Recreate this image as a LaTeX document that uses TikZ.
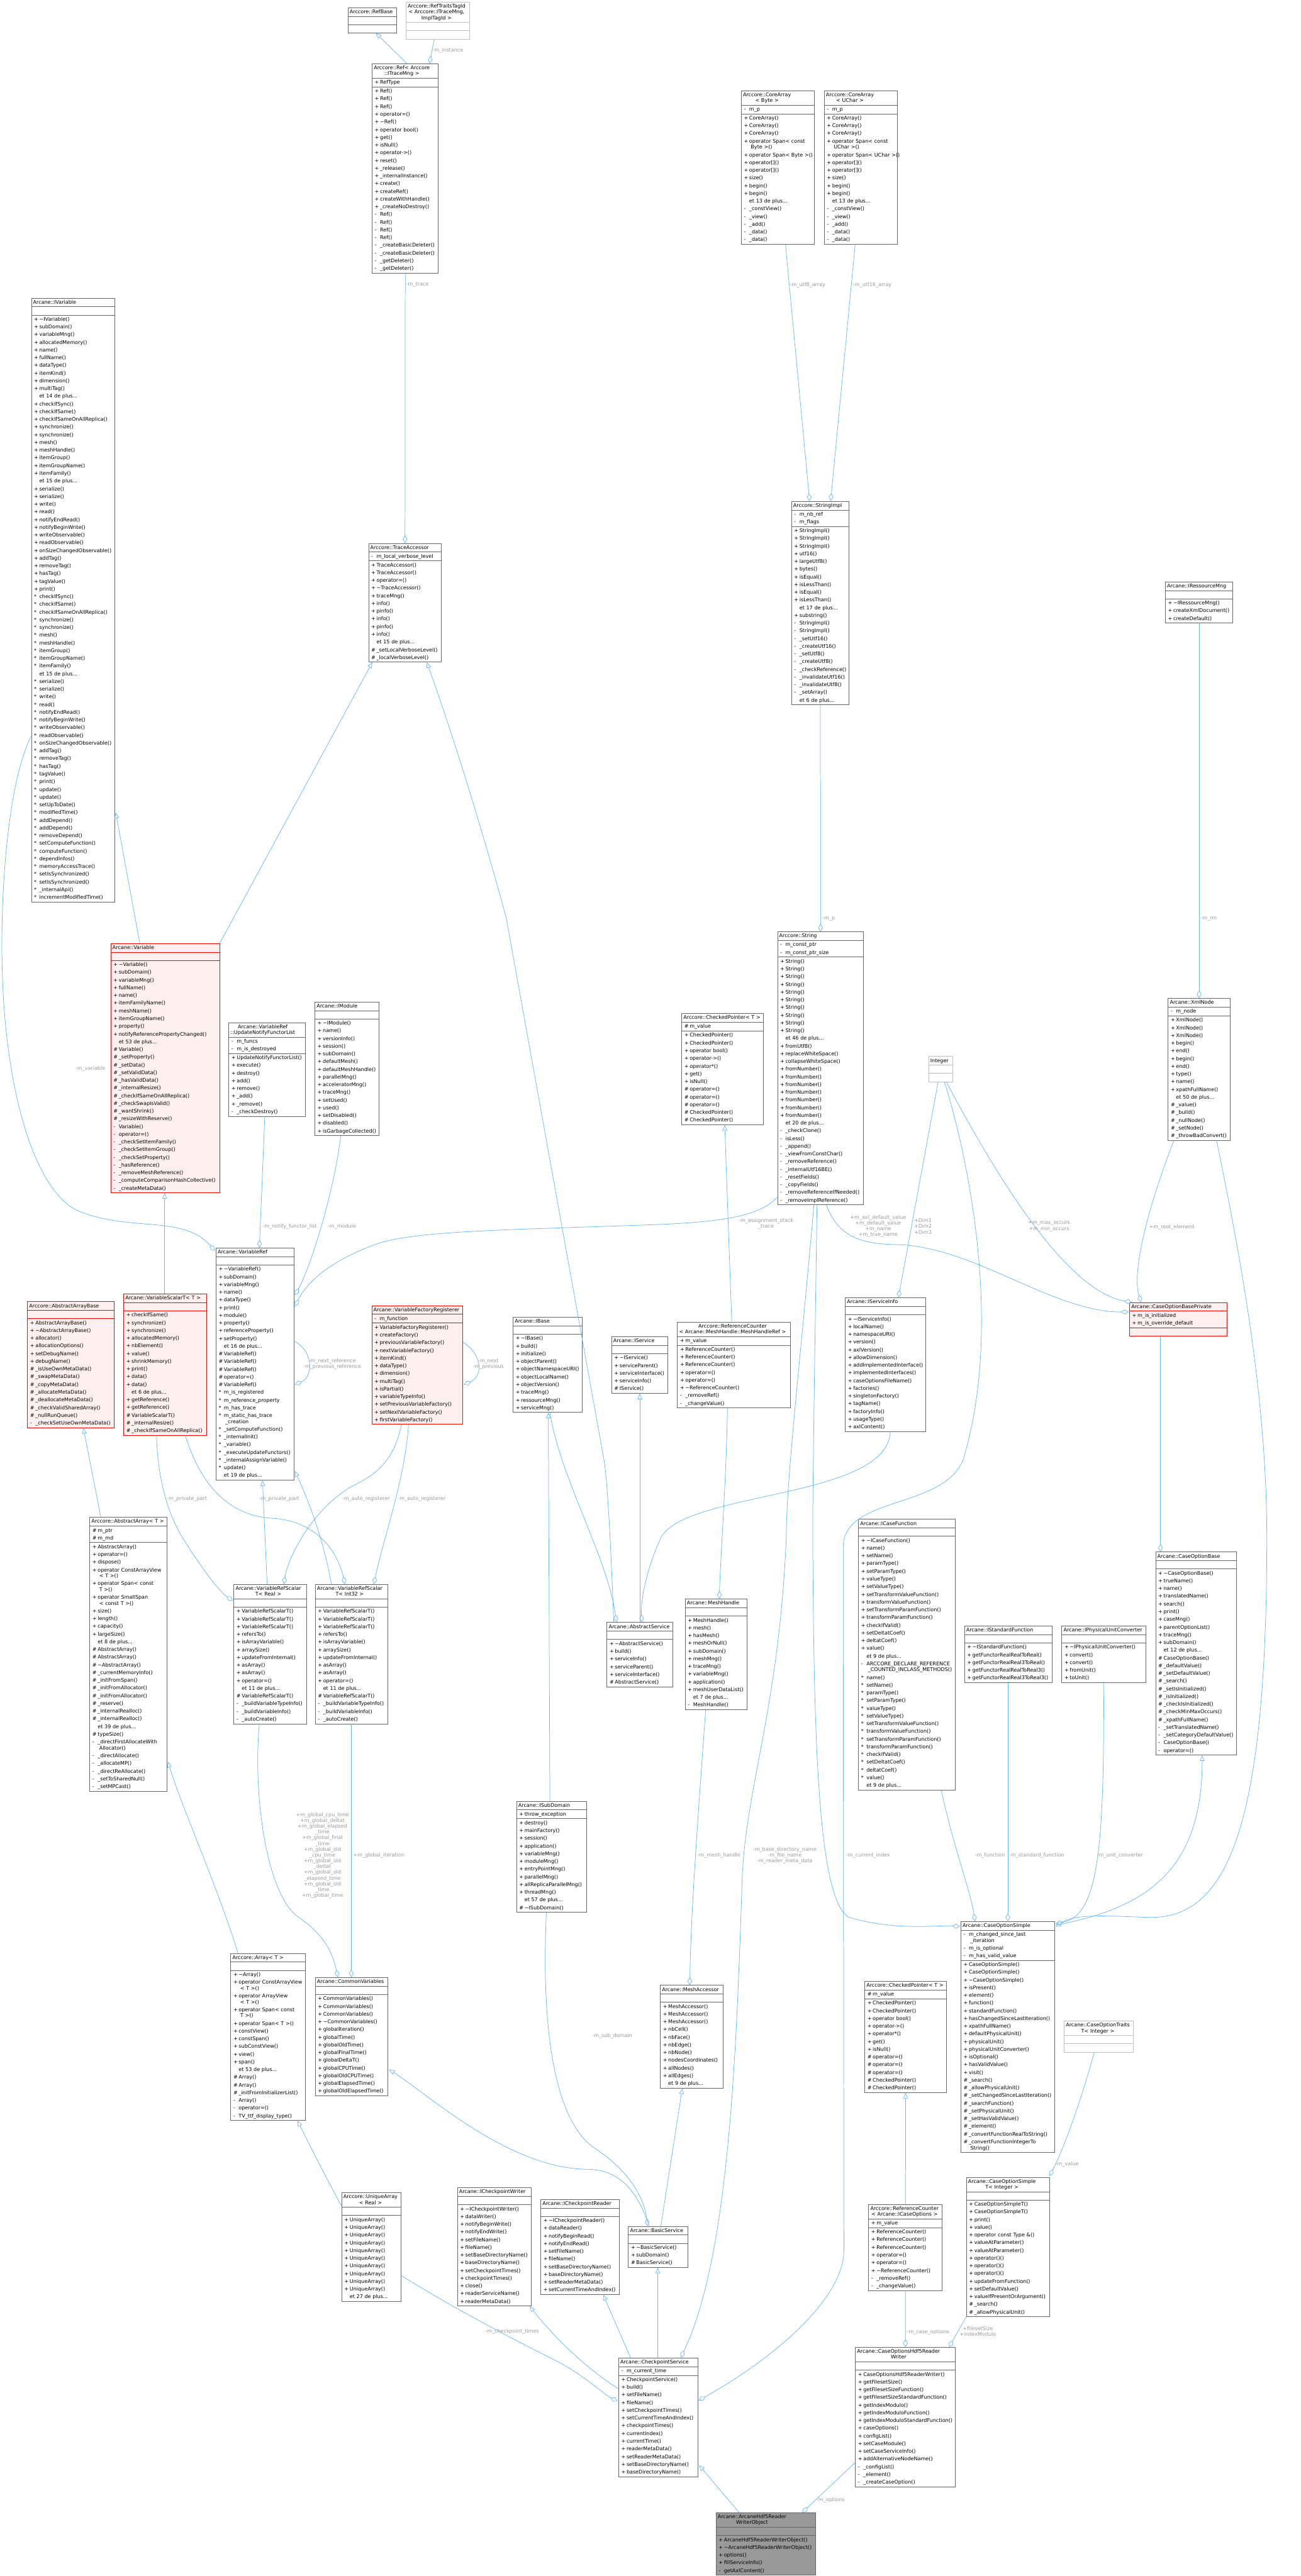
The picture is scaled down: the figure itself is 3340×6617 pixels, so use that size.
\documentclass[tikz,border=0pt]{standalone}
\usepackage{fontspec}
\setmainfont{DejaVu Sans}
\usetikzlibrary{shapes.multipart,arrows.meta,calc}
\definecolor{cEdge}{HTML}{63B8FF}
\definecolor{cBox}{HTML}{666666}
\definecolor{cLight}{HTML}{BFBFBF}
\definecolor{cRed}{HTML}{FF0000}
\definecolor{cRedFill}{HTML}{FFF0F0}
\definecolor{cDark}{HTML}{999999}
\definecolor{cLbl}{HTML}{9A9A9A}
\newcommand\xmfont{\fontsize{3.25pt}{4.95pt}\selectfont}
\newcommand\xlfont{\fontsize{3.25pt}{3.7pt}\selectfont}
\newcommand\xtld{\textasciitilde}
\newcommand\xrw[2]{\makebox[4pt][l]{\hspace{0.6pt}#1}#2\\}
\newcommand\xpu[1]{\xrw{+}{#1}}
\newcommand\xpr[1]{\xrw{-}{#1}}
\newcommand\xpo[1]{\xrw{\#}{#1}}
\newcommand\xst[1]{\xrw{*}{#1}}
\newcommand\xmo[1]{\xrw{}{et #1 de plus...}}
\newcommand\xtw[3]{\makebox[4pt][l]{\hspace{0.6pt}#1}#2\\[-1.1pt]\makebox[4pt][l]{}\hspace{1pt}#3\\}
\newcommand\xmbr[1]{\begin{tabular}{@{}l@{}}#1\end{tabular}}
\newcommand\xhdr[1]{{\xlfont\begin{tabular}{@{}c@{}}\rule{0pt}{3.4pt}#1\rule[-1.5pt]{0pt}{0pt}\end{tabular}}}
\newcommand\xemp{\rule{0pt}{3.5pt}\rule[-1.1pt]{0pt}{0pt}}
\newcommand\xcls[8]{\pgfmathsetmacro\xtwd{#4*0.25-2.2}\node[cls,#5,text width=\xtwd pt] (#1) at (#2,#3) {\centering\xhdr{#6}\nodepart{two}#7\nodepart{three}#8};}
\tikzset{
 cls/.style={rectangle split, rectangle split parts=3, draw=cBox, fill=white, line width=0.3pt, inner xsep=1.1pt, inner ysep=0.2pt, font=\xmfont, align=left, anchor=north west},
 redc/.style={draw=cRed, fill=cRedFill},
 lightc/.style={draw=cLight},
 darkc/.style={fill=cDark},
 inh/.style={draw=cEdge, line width=0.3pt, -{Triangle[open,length=3.6pt,width=3pt]}},
 agg/.style={draw=cEdge, line width=0.3pt, -{Diamond[open,length=5pt,width=3pt]}},
 lbl/.style={font=\xlfont, text=cLbl, align=center, inner sep=0pt},
}
\begin{document}
\begin{tikzpicture}[x=0.25pt,y=-0.25pt]
\fill[white] (0,0) rectangle (3340,6617);
\useasboundingbox (0,0) rectangle (3340,6617);

% ---------------- nodes ----------------
\xcls{RefBase}{893}{19}{125}{}{Arccore::RefBase}{\xemp}{\xemp}
\xcls{RefTr}{1042}{5}{163}{lightc}{Arccore::RefTraitsTagId\\< Arccore::ITraceMng,\\ ImplTagId >}{\xemp}{\xemp}
\xcls{Ref}{955}{163}{170}{}{Arccore::Ref< Arccore\\::ITraceMng >}{\xmbr{\xpu{RefType}}}{\xmbr{\xpu{Ref()}\xpu{Ref()}\xpu{Ref()}\xpu{operator=()}\xpu{\xtld Ref()}\xpu{operator bool()}\xpu{get()}\xpu{isNull()}\xpu{operator->()}\xpu{reset()}\xpu{\_release()}\xpu{\_internalInstance()}\xpu{create()}\xpu{createRef()}\xpu{createWithHandle()}\xpu{\_createNoDestroy()}\xpr{Ref()}\xpr{Ref()}\xpr{Ref()}\xpr{Ref()}\xpr{\_createBasicDeleter()}\xpr{\_createBasicDeleter()}\xpr{\_getDeleter()}\xpr{\_getDeleter()}}}

\xcls{CA8}{1903}{232}{188}{}{Arccore::CoreArray\\< Byte >}{\xmbr{\xpr{m\_p}}}{\xmbr{\xpu{CoreArray()}\xpu{CoreArray()}\xpu{CoreArray()}\xtw{+}{operator Span< const}{Byte >()}\xpu{operator Span< Byte >()}\xpu{operator[]()}\xpu{operator[]()}\xpu{size()}\xpu{begin()}\xpu{begin()}\xmo{13}\xpr{\_constView()}\xpr{\_view()}\xpr{\_add()}\xpr{\_data()}\xpr{\_data()}}}
\xcls{CA16}{2116}{232}{188}{}{Arccore::CoreArray\\< UChar >}{\xmbr{\xpr{m\_p}}}{\xmbr{\xpu{CoreArray()}\xpu{CoreArray()}\xpu{CoreArray()}\xtw{+}{operator Span< const}{UChar >()}\xpu{operator Span< UChar >()}\xpu{operator[]()}\xpu{operator[]()}\xpu{size()}\xpu{begin()}\xpu{begin()}\xmo{13}\xpr{\_constView()}\xpr{\_view()}\xpr{\_add()}\xpr{\_data()}\xpr{\_data()}}}

\xcls{IVar}{80}{765}{214}{}{Arcane::IVariable}{\xemp}{\xmbr{\xpu{\xtld IVariable()}\xpu{subDomain()}\xpu{variableMng()}\xpu{allocatedMemory()}\xpu{name()}\xpu{fullName()}\xpu{dataType()}\xpu{itemKind()}\xpu{dimension()}\xpu{multiTag()}\xmo{14}\xpu{checkIfSync()}\xpu{checkIfSame()}\xpu{checkIfSameOnAllReplica()}\xpu{synchronize()}\xpu{synchronize()}\xpu{mesh()}\xpu{meshHandle()}\xpu{itemGroup()}\xpu{itemGroupName()}\xpu{itemFamily()}\xmo{15}\xpu{serialize()}\xpu{serialize()}\xpu{write()}\xpu{read()}\xpu{notifyEndRead()}\xpu{notifyBeginWrite()}\xpu{writeObservable()}\xpu{readObservable()}\xpu{onSizeChangedObservable()}\xpu{addTag()}\xpu{removeTag()}\xpu{hasTag()}\xpu{tagValue()}\xpu{print()}\xst{checkIfSync()}\xst{checkIfSame()}\xst{checkIfSameOnAllReplica()}\xst{synchronize()}\xst{synchronize()}\xst{mesh()}\xst{meshHandle()}\xst{itemGroup()}\xst{itemGroupName()}\xst{itemFamily()}\xmo{15}\xst{serialize()}\xst{serialize()}\xst{write()}\xst{read()}\xst{notifyEndRead()}\xst{notifyBeginWrite()}\xst{writeObservable()}\xst{readObservable()}\xst{onSizeChangedObservable()}\xst{addTag()}\xst{removeTag()}\xst{hasTag()}\xst{tagValue()}\xst{print()}\xst{update()}\xst{update()}\xst{setUpToDate()}\xst{modifiedTime()}\xst{addDepend()}\xst{addDepend()}\xst{removeDepend()}\xst{setComputeFunction()}\xst{computeFunction()}\xst{dependInfos()}\xst{memoryAccessTrace()}\xst{setIsSynchronized()}\xst{setIsSynchronized()}\xst{\_internalApi()}\xst{incrementModifiedTime()}}}

\xcls{TA}{946}{1395}{187}{}{Arccore::TraceAccessor}{\xmbr{\xpr{m\_local\_verbose\_level}}}{\xmbr{\xpu{TraceAccessor()}\xpu{TraceAccessor()}\xpu{operator=()}\xpu{\xtld TraceAccessor()}\xpu{traceMng()}\xpu{info()}\xpu{pinfo()}\xpu{info()}\xpu{pinfo()}\xpu{info()}\xmo{15}\xpo{\_setLocalVerboseLevel()}\xpo{\_localVerboseLevel()}}}

\xcls{SImpl}{2032}{1287}{148}{}{Arccore::StringImpl}{\xmbr{\xpr{m\_nb\_ref}\xpr{m\_flags}}}{\xmbr{\xpu{StringImpl()}\xpu{StringImpl()}\xpu{StringImpl()}\xpu{utf16()}\xpu{largeUtf8()}\xpu{bytes()}\xpu{isEqual()}\xpu{isLessThan()}\xpu{isEqual()}\xpu{isLessThan()}\xmo{17}\xpu{substring()}\xpr{StringImpl()}\xpr{StringImpl()}\xpr{\_setUtf16()}\xpr{\_createUtf16()}\xpr{\_setUtf8()}\xpr{\_createUtf8()}\xpr{\_checkReference()}\xpr{\_invalidateUtf16()}\xpr{\_invalidateUtf8()}\xpr{\_setArray()}\xmo{6}}}

\xcls{IRes}{2992}{1494}{173}{}{Arcane::IRessourceMng}{\xemp}{\xmbr{\xpu{\xtld IRessourceMng()}\xpu{createXmlDocument()}\xpu{createDefault()}}}

\xcls{Var}{284}{2423}{279}{redc}{Arcane::Variable}{\xemp}{\xmbr{\xpu{\xtld Variable()}\xpu{subDomain()}\xpu{variableMng()}\xpu{fullName()}\xpu{name()}\xpu{itemFamilyName()}\xpu{meshName()}\xpu{itemGroupName()}\xpu{property()}\xpu{notifyReferencePropertyChanged()}\xmo{53}\xpo{Variable()}\xpo{\_setProperty()}\xpo{\_setData()}\xpo{\_setValidData()}\xpo{\_hasValidData()}\xpo{\_internalResize()}\xpo{\_checkIfSameOnAllReplica()}\xpo{\_checkSwapIsValid()}\xpo{\_wantShrink()}\xpo{\_resizeWithReserve()}\xpr{Variable()}\xpr{operator=()}\xpr{\_checkSetItemFamily()}\xpr{\_checkSetItemGroup()}\xpr{\_checkSetProperty()}\xpr{\_hasReference()}\xpr{\_removeMeshReference()}\xpr{\_computeComparisonHashCollective()}\xpr{\_createMetaData()}}}

\xcls{UNFL}{587}{2626}{196}{}{Arcane::VariableRef\\::UpdateNotifyFunctorList}{\xmbr{\xpr{m\_funcs}\xpr{m\_is\_destroyed}}}{\xmbr{\xpu{UpdateNotifyFunctorList()}\xpu{execute()}\xpu{destroy()}\xpu{add()}\xpu{remove()}\xpu{\_add()}\xpu{\_remove()}\xpr{\_checkDestroy()}}}

\xcls{IMod}{808}{2573}{165}{}{Arcane::IModule}{\xemp}{\xmbr{\xpu{\xtld IModule()}\xpu{name()}\xpu{versionInfo()}\xpu{session()}\xpu{subDomain()}\xpu{defaultMesh()}\xpu{defaultMeshHandle()}\xpu{parallelMng()}\xpu{acceleratorMng()}\xpu{traceMng()}\xpu{setUsed()}\xpu{used()}\xpu{setDisabled()}\xpu{disabled()}\xpu{isGarbageCollected()}}}

\xcls{Str}{1996}{2393}{221}{}{Arccore::String}{\xmbr{\xpr{m\_const\_ptr}\xpr{m\_const\_ptr\_size}}}{\xmbr{\xpu{String()}\xpu{String()}\xpu{String()}\xpu{String()}\xpu{String()}\xpu{String()}\xpu{String()}\xpu{String()}\xpu{String()}\xpu{String()}\xmo{46}\xpu{fromUtf8()}\xpu{replaceWhiteSpace()}\xpu{collapseWhiteSpace()}\xpu{fromNumber()}\xpu{fromNumber()}\xpu{fromNumber()}\xpu{fromNumber()}\xpu{fromNumber()}\xpu{fromNumber()}\xpu{fromNumber()}\xmo{20}\xpr{\_checkClone()}\xpr{isLess()}\xpr{\_append()}\xpr{\_viewFromConstChar()}\xpr{\_removeReference()}\xpr{\_internalUtf16BE()}\xpr{\_resetFields()}\xpr{\_copyFields()}\xpr{\_removeReferenceIfNeeded()}\xpr{\_removeImplReference()}}}

\xcls{CP1}{1750}{2603}{210}{}{Arccore::CheckedPointer< T >}{\xmbr{\xpo{m\_value}}}{\xmbr{\xpu{CheckedPointer()}\xpu{CheckedPointer()}\xpu{operator bool()}\xpu{operator->()}\xpu{operator*()}\xpu{get()}\xpu{isNull()}\xpo{operator=()}\xpo{operator=()}\xpo{operator=()}\xpo{CheckedPointer()}\xpo{CheckedPointer()}}}

\xcls{Int}{2384}{2713}{61}{lightc}{Integer}{\xemp}{\xemp}

\xcls{Xml}{2999}{2564}{159}{}{Arcane::XmlNode}{\xmbr{\xpr{m\_node}}}{\xmbr{\xpu{XmlNode()}\xpu{XmlNode()}\xpu{XmlNode()}\xpu{begin()}\xpu{end()}\xpu{begin()}\xpu{end()}\xpu{type()}\xpu{name()}\xpu{xpathFullName()}\xmo{50}\xpo{\_value()}\xpo{\_build()}\xpo{\_nullNode()}\xpo{\_setNode()}\xpo{\_throwBadConvert()}}}

\xcls{VRef}{554}{3205}{200}{}{Arcane::VariableRef}{\xemp}{\xmbr{\xpu{\xtld VariableRef()}\xpu{subDomain()}\xpu{variableMng()}\xpu{name()}\xpu{dataType()}\xpu{print()}\xpu{module()}\xpu{property()}\xpu{referenceProperty()}\xpu{setProperty()}\xmo{16}\xpo{VariableRef()}\xpo{VariableRef()}\xpo{VariableRef()}\xpo{operator=()}\xpo{VariableRef()}\xst{m\_is\_registered}\xst{m\_reference\_property}\xst{m\_has\_trace}\xtw{*}{m\_static\_has\_trace}{\_creation}\xst{\_setComputeFunction()}\xst{\_internalInit()}\xst{\_variable()}\xst{\_executeUpdateFunctors()}\xst{\_internalAssignVariable()}\xst{update()}\xmo{19}}}

\xcls{VST}{317}{3323}{213}{redc}{Arcane::VariableScalarT< T >}{\xemp}{\xmbr{\xpu{checkIfSame()}\xpu{synchronize()}\xpu{synchronize()}\xpu{allocatedMemory()}\xpu{nbElement()}\xpu{value()}\xpu{shrinkMemory()}\xpu{print()}\xpu{data()}\xpu{data()}\xmo{6}\xpu{getReference()}\xpu{getReference()}\xpo{VariableScalarT()}\xpo{\_internalResize()}\xpo{\_checkIfSameOnAllReplica()}}}

\xcls{AAB}{70}{3343}{222}{redc}{Arccore::AbstractArrayBase}{\xemp}{\xmbr{\xpu{AbstractArrayBase()}\xpu{\xtld AbstractArrayBase()}\xpu{allocator()}\xpu{allocationOptions()}\xpu{setDebugName()}\xpu{debugName()}\xpo{\_isUseOwnMetaData()}\xpo{\_swapMetaData()}\xpo{\_copyMetaData()}\xpo{\_allocateMetaData()}\xpo{\_deallocateMetaData()}\xpo{\_checkValidSharedArray()}\xpo{\_nullRunQueue()}\xpr{\_checkSetUseOwnMetaData()}}}

\xcls{VFR}{954}{3353}{234}{redc}{Arcane::VariableFactoryRegisterer}{\xmbr{\xpr{m\_function}}}{\xmbr{\xpu{VariableFactoryRegisterer()}\xpu{createFactory()}\xpu{previousVariableFactory()}\xpu{nextVariableFactory()}\xpu{itemKind()}\xpu{dataType()}\xpu{dimension()}\xpu{multiTag()}\xpu{isPartial()}\xpu{variableTypeInfo()}\xpu{setPreviousVariableFactory()}\xpu{setNextVariableFactory()}\xpu{firstVariableFactory()}}}

\xcls{IBase}{1317}{3383}{178}{}{Arcane::IBase}{\xemp}{\xmbr{\xpu{\xtld IBase()}\xpu{build()}\xpu{initialize()}\xpu{objectParent()}\xpu{objectNamespaceURI()}\xpu{objectLocalName()}\xpu{objectVersion()}\xpu{traceMng()}\xpu{ressourceMng()}\xpu{serviceMng()}}}

\xcls{ISrv}{1570}{3433}{144}{}{Arcane::IService}{\xemp}{\xmbr{\xpu{\xtld IService()}\xpu{serviceParent()}\xpu{serviceInterface()}\xpu{serviceInfo()}\xpo{IService()}}}

\xcls{RCM}{1739}{3395}{290}{}{Arccore::ReferenceCounter\\< Arcane::MeshHandle::MeshHandleRef >}{\xmbr{\xpu{m\_value}}}{\xmbr{\xpu{ReferenceCounter()}\xpu{ReferenceCounter()}\xpu{ReferenceCounter()}\xpu{operator=()}\xpu{operator=()}\xpu{\xtld ReferenceCounter()}\xpr{\_removeRef()}\xpr{\_changeValue()}}}

\xcls{ISI}{2170}{3333}{207}{}{Arcane::IServiceInfo}{\xemp}{\xmbr{\xpu{\xtld IServiceInfo()}\xpu{localName()}\xpu{namespaceURI()}\xpu{version()}\xpu{axlVersion()}\xpu{allowDimension()}\xpu{addImplementedInterface()}\xpu{implementedInterfaces()}\xpu{caseOptionsFileName()}\xpu{factories()}\xpu{singletonFactory()}\xpu{tagName()}\xpu{factoryInfo()}\xpu{usageType()}\xpu{axlContent()}}}

\xcls{COBP}{2900}{3345}{250}{redc}{Arcane::CaseOptionBasePrivate}{\xmbr{\xpu{m\_is\_initialized}\xpu{m\_is\_override\_default}}}{\xemp}

\xcls{AA}{230}{3897}{198}{}{Arccore::AbstractArray< T >}{\xmbr{\xpo{m\_ptr}\xpo{m\_md}}}{\xmbr{\xpu{AbstractArray()}\xpu{operator=()}\xpu{dispose()}\xtw{+}{operator ConstArrayView}{< T >()}\xtw{+}{operator Span< const}{T >()}\xtw{+}{operator SmallSpan}{< const T >()}\xpu{size()}\xpu{length()}\xpu{capacity()}\xpu{largeSize()}\xmo{8}\xpo{AbstractArray()}\xpo{AbstractArray()}\xpo{\xtld AbstractArray()}\xpo{\_currentMemoryInfo()}\xpo{\_initFromSpan()}\xpo{\_initFromAllocator()}\xpo{\_initFromAllocator()}\xpo{\_reserve()}\xpo{\_internalRealloc()}\xpo{\_internalRealloc()}\xmo{39}\xpo{typeSize()}\xtw{-}{\_directFirstAllocateWith}{Allocator()}\xpr{\_directAllocate()}\xpr{\_allocateMP()}\xpr{\_directReAllocate()}\xpr{\_setToSharedNull()}\xpr{\_setMPCast()}}}

\xcls{VRSR}{600}{4069}{186}{}{Arcane::VariableRefScalar\\T< Real >}{\xemp}{\xmbr{\xpu{VariableRefScalarT()}\xpu{VariableRefScalarT()}\xpu{VariableRefScalarT()}\xpu{refersTo()}\xpu{isArrayVariable()}\xpu{arraySize()}\xpu{updateFromInternal()}\xpu{asArray()}\xpu{asArray()}\xpu{operator=()}\xmo{11}\xpo{VariableRefScalarT()}\xpr{\_buildVariableTypeInfo()}\xpr{\_buildVariableInfo()}\xpr{\_autoCreate()}}}
\xcls{VRSI}{809}{4069}{186}{}{Arcane::VariableRefScalar\\T< Int32 >}{\xemp}{\xmbr{\xpu{VariableRefScalarT()}\xpu{VariableRefScalarT()}\xpu{VariableRefScalarT()}\xpu{refersTo()}\xpu{isArrayVariable()}\xpu{arraySize()}\xpu{updateFromInternal()}\xpu{asArray()}\xpu{asArray()}\xpu{operator=()}\xmo{11}\xpo{VariableRefScalarT()}\xpr{\_buildVariableTypeInfo()}\xpr{\_buildVariableInfo()}\xpr{\_autoCreate()}}}

\xcls{ASrv}{1558}{4167}{169}{}{Arcane::AbstractService}{\xemp}{\xmbr{\xpu{\xtld AbstractService()}\xpu{build()}\xpu{serviceInfo()}\xpu{serviceParent()}\xpu{serviceInterface()}\xpo{AbstractService()}}}

\xcls{MH}{1759}{4107}{158}{}{Arcane::MeshHandle}{\xemp}{\xmbr{\xpu{MeshHandle()}\xpu{mesh()}\xpu{hasMesh()}\xpu{meshOrNull()}\xpu{subDomain()}\xpu{meshMng()}\xpu{traceMng()}\xpu{variableMng()}\xpu{application()}\xpu{meshUserDataList()}\xmo{7}\xpr{MeshHandle()}}}

\xcls{ICF}{2204}{3902}{248}{}{Arcane::ICaseFunction}{\xemp}{\xmbr{\xpu{\xtld ICaseFunction()}\xpu{name()}\xpu{setName()}\xpu{paramType()}\xpu{setParamType()}\xpu{valueType()}\xpu{setValueType()}\xpu{setTransformValueFunction()}\xpu{transformValueFunction()}\xpu{setTransformParamFunction()}\xpu{transformParamFunction()}\xpu{checkIfValid()}\xpu{setDeltatCoef()}\xpu{deltatCoef()}\xpu{value()}\xmo{9}\xtw{-}{ARCCORE\_DECLARE\_REFERENCE}{\_COUNTED\_INCLASS\_METHODS()}\xst{name()}\xst{setName()}\xst{paramType()}\xst{setParamType()}\xst{valueType()}\xst{setValueType()}\xst{setTransformValueFunction()}\xst{transformValueFunction()}\xst{setTransformParamFunction()}\xst{transformParamFunction()}\xst{checkIfValid()}\xst{setDeltatCoef()}\xst{deltatCoef()}\xst{value()}\xmo{9}}}

\xcls{ISF}{2476}{4176}{225}{}{Arcane::IStandardFunction}{\xemp}{\xmbr{\xpu{\xtld IStandardFunction()}\xpu{getFunctorRealRealToReal()}\xpu{getFunctorRealReal3ToReal()}\xpu{getFunctorRealRealToReal3()}\xpu{getFunctorRealReal3ToReal3()}}}
\xcls{IPUC}{2726}{4176}{215}{}{Arcane::IPhysicalUnitConverter}{\xemp}{\xmbr{\xpu{\xtld IPhysicalUnitConverter()}\xpu{convert()}\xpu{convert()}\xpu{fromUnit()}\xpu{toUnit()}}}

\xcls{COB}{2967}{3986}{208}{}{Arcane::CaseOptionBase}{\xemp}{\xmbr{\xpu{\xtld CaseOptionBase()}\xpu{trueName()}\xpu{name()}\xpu{translatedName()}\xpu{search()}\xpu{print()}\xpu{caseMng()}\xpu{parentOptionList()}\xpu{traceMng()}\xpu{subDomain()}\xmo{12}\xpo{CaseOptionBase()}\xpo{\_defaultValue()}\xpo{\_setDefaultValue()}\xpo{\_search()}\xpo{\_setIsInitialized()}\xpo{\_isInitialized()}\xpo{\_checkIsInitialized()}\xpo{\_checkMinMaxOccurs()}\xpo{\_xpathFullName()}\xpr{\_setTranslatedName()}\xpr{\_setCategoryDefaultValue()}\xpr{CaseOptionBase()}\xpr{operator=()}}}

\xcls{ISD}{1326}{4626}{180}{}{Arcane::ISubDomain}{\xmbr{\xpu{throw\_exception}}}{\xmbr{\xpu{destroy()}\xpu{mainFactory()}\xpu{session()}\xpu{application()}\xpu{variableMng()}\xpu{moduleMng()}\xpu{entryPointMng()}\xpu{parallelMng()}\xpu{allReplicaParallelMng()}\xpu{threadMng()}\xmo{57}\xpo{\xtld ISubDomain()}}}

\xcls{Arr}{592}{5017}{192}{}{Arccore::Array< T >}{\xemp}{\xmbr{\xpu{\xtld Array()}\xtw{+}{operator ConstArrayView}{< T >()}\xtw{+}{operator ArrayView}{< T >()}\xtw{+}{operator Span< const}{T >()}\xpu{operator Span< T >()}\xpu{constView()}\xpu{constSpan()}\xpu{subConstView()}\xpu{view()}\xpu{span()}\xmo{53}\xpo{Array()}\xpo{Array()}\xpo{\_initFromInitializerList()}\xpr{Array()}\xpr{operator=()}\xpr{TV\_ttf\_display\_type()}}}

\xcls{CV}{809}{5079}{186}{}{Arcane::CommonVariables}{\xemp}{\xmbr{\xpu{CommonVariables()}\xpu{CommonVariables()}\xpu{CommonVariables()}\xpu{\xtld CommonVariables()}\xpu{globalIteration()}\xpu{globalTime()}\xpu{globalOldTime()}\xpu{globalFinalTime()}\xpu{globalDeltaT()}\xpu{globalCPUTime()}\xpu{globalOldCPUTime()}\xpu{globalElapsedTime()}\xpu{globalOldElapsedTime()}}}

\xcls{MA}{1695}{5099}{161}{}{Arcane::MeshAccessor}{\xemp}{\xmbr{\xpu{MeshAccessor()}\xpu{MeshAccessor()}\xpu{MeshAccessor()}\xpu{nbCell()}\xpu{nbFace()}\xpu{nbEdge()}\xpu{nbNode()}\xpu{nodesCoordinates()}\xpu{allNodes()}\xpu{allEdges()}\xmo{9}}}

\xcls{COS}{2467}{4935}{241}{}{Arcane::CaseOptionSimple}{\xmbr{\xtw{-}{m\_changed\_since\_last}{\_iteration}\xpr{m\_is\_optional}\xpr{m\_has\_valid\_value}}}{\xmbr{\xpu{CaseOptionSimple()}\xpu{CaseOptionSimple()}\xpu{\xtld CaseOptionSimple()}\xpu{isPresent()}\xpu{element()}\xpu{function()}\xpu{standardFunction()}\xpu{hasChangedSinceLastIteration()}\xpu{xpathFullName()}\xpu{defaultPhysicalUnit()}\xpu{physicalUnit()}\xpu{physicalUnitConverter()}\xpu{isOptional()}\xpu{hasValidValue()}\xpu{visit()}\xpo{\_search()}\xpo{\_allowPhysicalUnit()}\xpo{\_setChangedSinceLastIteration()}\xpo{\_searchFunction()}\xpo{\_setPhysicalUnit()}\xpo{\_setHasValidValue()}\xpo{\_element()}\xpo{\_convertFunctionRealToString()}\xtw{\#}{\_convertFunctionIntegerTo}{String()}}}

\xcls{CP2}{2220}{5089}{210}{}{Arccore::CheckedPointer< T >}{\xmbr{\xpo{m\_value}}}{\xmbr{\xpu{CheckedPointer()}\xpu{CheckedPointer()}\xpu{operator bool()}\xpu{operator->()}\xpu{operator*()}\xpu{get()}\xpu{isNull()}\xpo{operator=()}\xpo{operator=()}\xpo{operator=()}\xpo{CheckedPointer()}\xpo{CheckedPointer()}}}

\xcls{COTT}{2732}{5191}{177}{lightc}{Arcane::CaseOptionTraits\\T< Integer >}{\xemp}{\xemp}

\xcls{UA}{877}{5632}{152}{}{Arccore::UniqueArray\\< Real >}{\xemp}{\xmbr{\xpu{UniqueArray()}\xpu{UniqueArray()}\xpu{UniqueArray()}\xpu{UniqueArray()}\xpu{UniqueArray()}\xpu{UniqueArray()}\xpu{UniqueArray()}\xpu{UniqueArray()}\xpu{UniqueArray()}\xpu{UniqueArray()}\xmo{27}}}

\xcls{ICW}{1174}{5619}{189}{}{Arcane::ICheckpointWriter}{\xemp}{\xmbr{\xpu{\xtld ICheckpointWriter()}\xpu{dataWriter()}\xpu{notifyBeginWrite()}\xpu{notifyEndWrite()}\xpu{setFileName()}\xpu{fileName()}\xpu{setBaseDirectoryName()}\xpu{baseDirectoryName()}\xpu{setCheckpointTimes()}\xpu{checkpointTimes()}\xpu{close()}\xpu{readerServiceName()}\xpu{readerMetaData()}}}

\xcls{ICR}{1388}{5649}{202}{}{Arcane::ICheckpointReader}{\xemp}{\xmbr{\xpu{\xtld ICheckpointReader()}\xpu{dataReader()}\xpu{notifyBeginRead()}\xpu{notifyEndRead()}\xpu{setFileName()}\xpu{fileName()}\xpu{setBaseDirectoryName()}\xpu{baseDirectoryName()}\xpu{setReaderMetaData()}\xpu{setCurrentTimeAndIndex()}}}

\xcls{BS}{1613}{5718}{152}{}{Arcane::BasicService}{\xemp}{\xmbr{\xpu{\xtld BasicService()}\xpu{subDomain()}\xpo{BasicService()}}}

\xcls{RCC}{2230}{5662}{189}{}{Arccore::ReferenceCounter\\< Arcane::ICaseOptions >}{\xmbr{\xpu{m\_value}}}{\xmbr{\xpu{ReferenceCounter()}\xpu{ReferenceCounter()}\xpu{ReferenceCounter()}\xpu{operator=()}\xpu{operator=()}\xpu{\xtld ReferenceCounter()}\xpr{\_removeRef()}\xpr{\_changeValue()}}}

\xcls{COST}{2481}{5592}{213}{}{Arcane::CaseOptionSimple\\T< Integer >}{\xemp}{\xmbr{\xpu{CaseOptionSimpleT()}\xpu{CaseOptionSimpleT()}\xpu{print()}\xpu{value()}\xpu{operator const Type \&()}\xpu{valueAtParameter()}\xpu{valueAtParameter()}\xpu{operator()()}\xpu{operator()()}\xpu{operator()()}\xpu{updateFromFunction()}\xpu{setDefaultValue()}\xpu{valueIfPresentOrArgument()}\xpo{\_search()}\xpo{\_allowPhysicalUnit()}}}

\xcls{CS}{1588}{6056}{203}{}{Arcane::CheckpointService}{\xmbr{\xpr{m\_current\_time}}}{\xmbr{\xpu{CheckpointService()}\xpu{build()}\xpu{setFileName()}\xpu{fileName()}\xpu{setCheckpointTimes()}\xpu{setCurrentTimeAndIndex()}\xpu{checkpointTimes()}\xpu{currentIndex()}\xpu{currentTime()}\xpu{readerMetaData()}\xpu{setReaderMetaData()}\xpu{setBaseDirectoryName()}\xpu{baseDirectoryName()}}}

\xcls{COH}{2196}{6029}{257}{}{Arcane::CaseOptionsHdf5Reader\\Writer}{\xemp}{\xmbr{\xpu{CaseOptionsHdf5ReaderWriter()}\xpu{getFilesetSize()}\xpu{getFilesetSizeFunction()}\xpu{getFilesetSizeStandardFunction()}\xpu{getIndexModulo()}\xpu{getIndexModuloFunction()}\xpu{getIndexModuloStandardFunction()}\xpu{caseOptions()}\xpu{configList()}\xpu{setCaseModule()}\xpu{setCaseServiceInfo()}\xpu{addAlternativeNodeName()}\xpr{\_configList()}\xpr{\_element()}\xpr{\_createCaseOption()}}}

\xcls{AHO}{1838}{6454}{255}{darkc}{Arcane::ArcaneHdf5Reader\\WriterObject}{\xemp}{\xmbr{\xpu{ArcaneHdf5ReaderWriterObject()}\xpu{\xtld ArcaneHdf5ReaderWriterObject()}\xpu{options()}\xpu{fillServiceInfo()}\xpr{getAxlContent()}}}

% ---------------- edges ----------------
\draw[inh] ($(Ref.north west)+(90,0)$) -- ($(RefBase.south west)+(72,0)$);
\draw[agg] ($(RefTr.south west)+(73,0)$) -- ($(Ref.north west)+(148,0)$);
\draw[agg] (Ref.south) -- (TA.north);
\draw[agg] ($(CA8.south west)+(114,0)$) -- ($(SImpl.north west)+(47,0)$);
\draw[agg] ($(CA16.south west)+(80,0)$) -- ($(SImpl.north west)+(101,0)$);
\draw[agg] (SImpl.south) -- (Str.north);
\draw[agg] (IRes.south) -- (Xml.north);
\draw[inh] ($(Var.north west)+(75,0)$) -- ($(IVar.south east)+(2,-230)$);
\draw[inh] (Var.north east) -- ($(TA.south west)+(10,0)$);
\draw[agg] ($(IVar.north west)+(0,1126)$) .. controls (25,2000) and (3,2250) .. (5,2450) .. controls (8,2800) and (90,3060) .. (200,3110) .. controls (330,3165) and (470,3120) .. ($(VRef.north west)+(-2,8)$);
\draw[agg] ($(IMod.south west)+(67,0)$) .. controls (860,3050) and (800,3250) .. ($(VRef.north east)+(2,122)$);
\draw[agg] ($(UNFL.south west)+(93,0)$) -- ($(VRef.north west)+(112,0)$);
\draw[agg] ($(VRef.north east)+(0,240)$) .. controls (805,3470) and (805,3535) .. ($(VRef.north east)+(2,352)$);
\draw[agg] ($(VFR.north east)+(0,95)$) .. controls (1240,3480) and (1240,3535) .. ($(VFR.north east)+(2,204)$);
\draw[agg] ($(Str.south west)+(0,-20)$) .. controls (1950,3125) and (1850,3138) .. (1700,3145) .. controls (1300,3160) and (1050,3160) .. (955,3200) .. controls (850,3240) and (790,3290) .. ($(VRef.north east)+(2,151)$);
\draw[inh] ($(VST.north west)+(106,0)$) -- ($(Var.south west)+(139,0)$);
\draw[inh] ($(AA.north west)+(29,0)$) -- ($(AAB.south west)+(144,0)$);
\draw[agg] ($(VST.south west)+(85,0)$) .. controls (405,3800) and (430,3890) .. (475,3960) .. controls (520,4030) and (560,4085) .. ($(VRSR.north west)+(-2,43)$);
\draw[agg] ($(VST.south west)+(159,0)$) .. controls (520,3830) and (600,3895) .. (700,3900) .. controls (790,3905) and (860,3960) .. ($(VRSI.north west)+(77,0)$);
\draw[inh] ($(VRSR.north west)+(86,0)$) -- ($(VRef.south west)+(120,0)$);
\draw[inh] ($(VRSI.north west)+(42,0)$) .. controls (830,3950) and (790,3850) .. ($(VRef.south east)+(2,-24)$);
\draw[agg] ($(VFR.south west)+(77,0)$) .. controls (1010,3760) and (960,3790) .. (900,3820) .. controls (800,3880) and (740,4000) .. ($(VRSR.north west)+(129,0)$);
\draw[agg] ($(VFR.south west)+(95,0)$) .. controls (1040,3800) and (985,3950) .. ($(VRSI.north west)+(151,0)$);
\draw[agg] ($(VRSR.south west)+(66,0)$) .. controls (650,4600) and (680,4850) .. (760,4920) .. controls (820,4960) and (850,5000) .. ($(CV.north west)+(59,0)$);
\draw[agg] ($(VRSI.south west)+(93,0)$) -- ($(CV.north west)+(93,0)$);
\draw[inh] ($(Arr.north west)+(19,0)$) .. controls (560,4850) and (470,4650) .. ($(AA.south east)+(2,-76)$);
\draw[inh] ($(UA.north west)+(0,34)$) .. controls (840,5600) and (790,5500) .. ($(Arr.south west)+(172,0)$);
\draw[inh] ($(ISD.north west)+(86,0)$) -- ($(IBase.south west)+(91,0)$);
\draw[agg] ($(IBase.south west)+(95,0)$) .. controls (1440,3800) and (1560,4000) .. ($(ASrv.north west)+(25,0)$);
\draw[inh] ($(ASrv.north west)+(85,0)$) -- ($(ISrv.south west)+(73,0)$);
\draw[inh] ($(ASrv.north west)+(18,0)$) .. controls (1570,4000) and (1560,3800) .. (1551,3750) -- (1300,2358) .. controls (1230,2100) and (1150,1850) .. ($(TA.south west)+(150,0)$);
\draw[agg] ($(ISI.south west)+(116,0)$) .. controls (2280,3850) and (1760,3830) .. (1697,3950) .. controls (1665,4020) and (1645,4100) .. ($(ASrv.north west)+(90,0)$);
\draw[agg] ($(RCM.south west)+(129,0)$) .. controls (1865,3800) and (1850,4000) .. ($(MH.north west)+(88,0)$);
\draw[agg] ($(MH.south west)+(53,0)$) .. controls (1790,4700) and (1775,4900) .. ($(MA.north west)+(76,0)$);
\draw[agg] ($(ICF.south west)+(213,0)$) .. controls (2450,4750) and (2490,4850) .. ($(COS.north west)+(37,0)$);
\draw[agg] ($(ISF.south west)+(112,0)$) -- ($(COS.north west)+(121,0)$);
\draw[agg] ($(IPUC.south west)+(108,0)$) .. controls (2836,4750) and (2820,4920) .. ($(COS.north east)+(2,6)$);
\draw[inh] ($(COS.north east)+(2,10)$) .. controls (2950,4900) and (3087,4800) .. ($(COB.south west)+(120,0)$);
\draw[agg] ($(Xml.south west)+(125,0)$) .. controls (3190,3250) and (3253,3600) .. (3253,3950) .. controls (3253,4700) and (3150,4930) .. (2950,4925) .. controls (2850,4922) and (2760,4915) .. ($(COS.north east)+(2,14)$);
\draw[agg] ($(Str.south west)+(102,0)$) .. controls (2092,3500) and (2087,3800) .. (2087,3950) .. controls (2090,4400) and (2095,4880) .. (2180,4925) .. controls (2300,4960) and (2400,4945) .. ($(COS.north west)+(-2,13)$);
\draw[agg] ($(Str.south west)+(94,0)$) .. controls (2055,3500) and (2019,3800) .. (2019,3950) .. controls (2000,4400) and (1910,4600) .. (1905,4850) .. controls (1890,5300) and (1870,5800) .. ($(CS.north east)+(-44,0)$);
\draw[agg] ($(Int.south west)+(41,0)$) .. controls (2480,2950) and (2580,3400) .. (2473,3750) .. controls (2420,3880) and (2160,3840) .. (2165,3980) -- (2167,5780) .. controls (2167,5900) and (2000,6050) .. ($(CS.north east)+(2,110)$);
\draw[agg] ($(Int.south west)+(25,0)$) -- ($(ISI.north west)+(137,0)$);
\draw[agg] ($(Int.south west)+(46,0)$) .. controls (2600,3100) and (2760,3320) .. ($(COBP.north west)+(6,0)$);
\draw[agg] ($(Str.south west)+(126,0)$) .. controls (2150,3170) and (2200,3195) .. (2300,3197) .. controls (2500,3200) and (2700,3370) .. ($(COBP.north west)+(-2,25)$);
\draw[agg] ($(Xml.south west)+(15,0)$) .. controls (2930,3150) and (2910,3280) .. ($(COBP.north west)+(30,0)$);
\draw[agg] ($(COBP.south west)+(80,0)$) -- ($(COB.north west)+(13,0)$);
\draw[inh] ($(RCM.north west)+(140,0)$) -- ($(CP1.south west)+(111,0)$);
\draw[inh] (RCC.north) -- (CP2.south);
\draw[agg] (RCC.south) -- ($(COH.north west)+(129,0)$);
\draw[agg] (COST.south west) -- ($(COH.north west)+(241,0)$);
\draw[agg] ($(COTT.south west)+(78,0)$) .. controls (2780,5380) and (2740,5500) .. ($(COST.north east)+(0,-2)$);
\draw[agg] ($(COH.south west)+(0,-63)$) -- ($(AHO.north west)+(222,0)$);
\draw[inh] ($(AHO.north west)+(60,0)$) -- ($(CS.south east)+(3,-30)$);
\draw[inh] ($(BS.north west)+(54,0)$) .. controls (1640,5640) and (1600,5570) .. (1500,5572) .. controls (1300,5565) and (1100,5380) .. ($(CV.south east)+(3,-68)$);
\draw[agg] ($(ISD.south west)+(77,0)$) .. controls (1390,5200) and (1420,5450) .. (1530,5520) .. controls (1620,5580) and (1655,5650) .. ($(BS.north west)+(50,0)$);
\draw[inh] ($(BS.north west)+(84,0)$) -- ($(MA.south west)+(57,0)$);
\draw[inh] ($(CS.north west)+(101,0)$) -- ($(BS.south west)+(76,0)$);
\draw[inh] ($(CS.north west)+(0,80)$) .. controls (1500,6080) and (1420,6000) .. ($(ICW.south east)+(-4,0)$);
\draw[inh] ($(CS.north west)+(31,0)$) -- ($(ICR.south west)+(161,0)$);
\draw[agg] ($(UA.north east)+(0,213)$) .. controls (1150,5920) and (1300,6000) .. (1420,6060) .. controls (1500,6100) and (1550,6150) .. ($(CS.north west)+(-2,112)$);

% ---------------- labels ----------------
\node[lbl] (l1) at (1150,130) {-m\_instance};
\node[lbl] (l2) at (1072,732) {-m\_trace};
\node[lbl] (l3) at (2074,732) {-m\_utf8\_array};
\node[lbl] (l4) at (2240,732) {-m\_utf16\_array};
\node[lbl] (l5) at (2128,2361) {-m\_p};
\node[lbl] (l6) at (3104,2360) {-m\_rm};
\node[lbl] (l7) at (232,2745) {-m\_variable};
\node[lbl] (l8) at (744,3151) {-m\_notify\_functor\_list};
\node[lbl] (l9) at (878,3151) {-m\_module};
\node[lbl] (l10) at (853,3504) {-m\_next\_reference\\-m\_previous\_reference};
\node[lbl] (l11) at (1254,3504) {-m\_next\\-m\_previous};
\node[lbl] (l12) at (1967,3143) {-m\_assignment\_stack\\\_trace};
\node[lbl] (l13) at (2255,3150) {+m\_axl\_default\_value\\+m\_default\_value\\+m\_name\\+m\_true\_name};
\node[lbl] (l14) at (2370,3150) {+Dim1\\+Dim2\\+Dim3};
\node[lbl] (l15) at (2694,3150) {+m\_max\_occurs\\+m\_min\_occurs};
\node[lbl] (l16) at (3009,3152) {+m\_root\_element};
\node[lbl] (l17) at (480,3850) {-m\_private\_part};
\node[lbl] (l18) at (717,3850) {-m\_private\_part};
\node[lbl] (l19) at (940,3850) {-m\_auto\_registerer};
\node[lbl] (l20) at (1083,3850) {-m\_auto\_registerer};
\node[lbl] (l21) at (828,4766) {+m\_global\_cpu\_time\\+m\_global\_deltat\\+m\_global\_elapsed\\\_time\\+m\_global\_final\\\_time\\+m\_global\_old\\\_cpu\_time\\+m\_global\_old\\\_deltat\\+m\_global\_old\\\_elapsed\_time\\+m\_global\_old\\\_time\\+m\_global\_time};
\node[lbl] (l22) at (973,4766) {+m\_global\_iteration};
\node[lbl] (l23) at (1846,4766) {-m\_mesh\_handle};
\node[lbl] (l24) at (2015,4766) {-m\_base\_directory\_name\\-m\_file\_name\\-m\_reader\_meta\_data};
\node[lbl] (l25) at (2229,4766) {-m\_current\_index};
\node[lbl] (l26) at (2542,4766) {-m\_function};
\node[lbl] (l27) at (2662,4766) {-m\_standard\_function};
\node[lbl] (l28) at (2876,4766) {-m\_unit\_converter};
\node[lbl] (l29) at (1572,5230) {-m\_sub\_domain};
\node[lbl] (l30) at (1315,5989) {-m\_checkpoint\_times};
\node[lbl] (l31) at (2383,5990) {-m\_case\_options};
\node[lbl] (l32) at (2511,5989) {+filesetSize\\+indexModulo};
\node[lbl] (l33) at (2740,5560) {-m\_value};
\node[lbl] (l34) at (2133,6422) {-m\_options};
\end{tikzpicture}
\end{document}
